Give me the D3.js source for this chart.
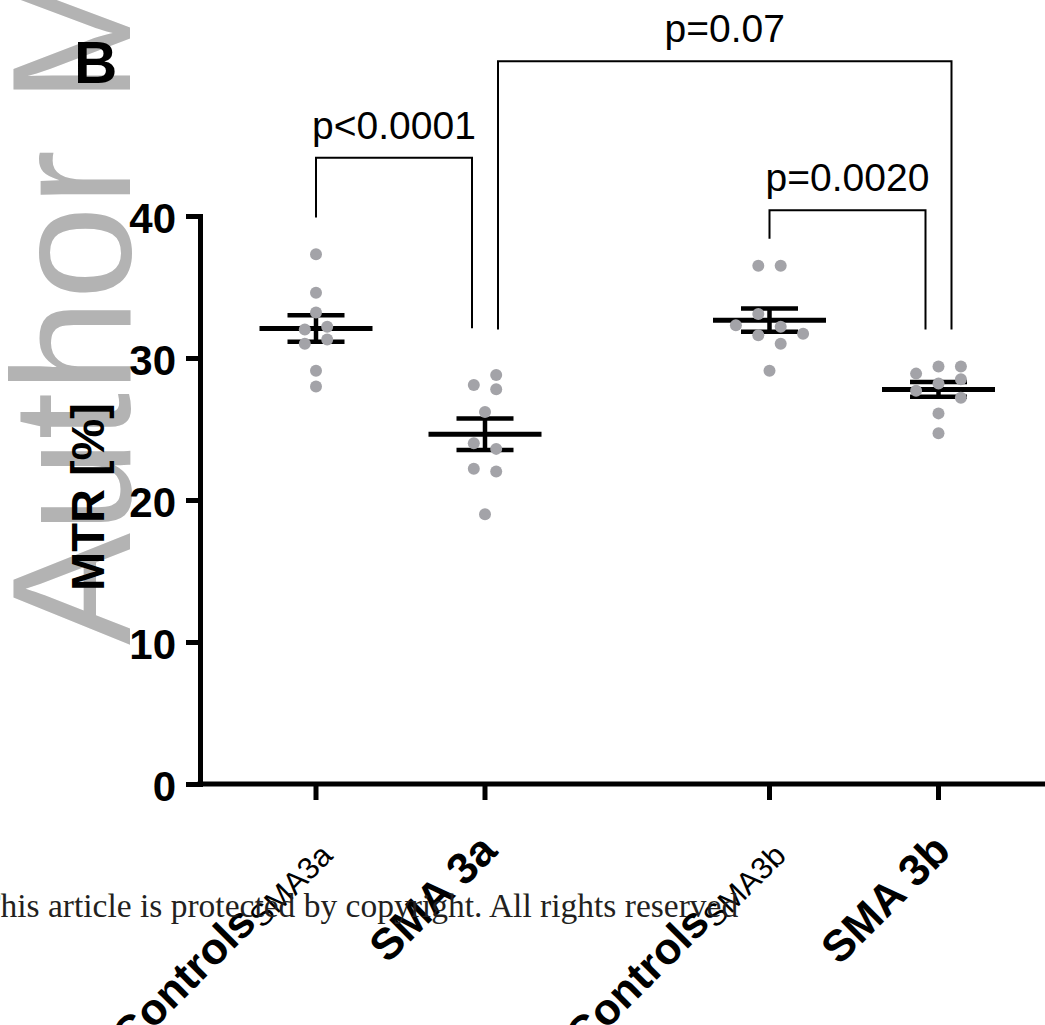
<!DOCTYPE html>
<html>
<head>
<meta charset="utf-8">
<script src="https://cdn.jsdelivr.net/npm/d3@7"></script>
<style>
  body { margin: 0; background: #fff; }
  svg { display: block; font-family: "Liberation Sans", Arial, sans-serif; }
</style>
</head>
<body>
<svg width="1045" height="1025"></svg>
<script>
// grupos e valores (MTR em %)
let coortes = ["3a", "3b"];
let grupos = ["Controls", "SMA"];

let controles_3a = [37.3, 34.6, 33.2, 32.2, 32.0, 31.3, 31.0, 29.1, 28.0];
let sma_3a = [28.8, 28.1, 27.8, 26.2, 24.0, 23.6, 22.2, 22.0, 19.0];
let controles_3b = [36.5, 36.5, 33.1, 32.3, 32.2, 31.7, 31.6, 31.0, 29.1];
let sma_3b = [29.4, 29.4, 28.9, 28.5, 28.2, 27.7, 27.2, 26.1, 24.7];

// coluna de cada ponto no "beeswarm" (como o prism espalhou)
let colunas_c3a = [0, 0, 0, 1, -1, 1, -1, 0, 0];
let colunas_s3a = [1, -1, 1, 0, -1, 1, -1, 1, 0];
let colunas_c3b = [-1, 1, -1, -3, 1, 3, -1, 1, 0];
let colunas_s3b = [2, 0, -2, 2, 0, -2, 2, 0, 0];

let rotulos = ["Controls", "SMA 3a", "Controls", "SMA 3b"];
let subscritos = ["SMA3a", "", "SMA3b", ""];

let ticks_y = [0, 10, 20, 30, 40];

// comparacoes: altura da barra e fim das pernas em MTR
let comparacoes = [
  {de: ["3a", "Controls"], ate: ["3a", "SMA"], p: "p<0.0001", nivel: 44.1, pernas: [39.9, 32.1], lado: [0, -1]},
  {de: ["3a", "SMA"], ate: ["3b", "SMA"], p: "p=0.07", nivel: 50.9, pernas: [32.0, 32.0], lado: [1, 1]},
  {de: ["3b", "Controls"], ate: ["3b", "SMA"], p: "p=0.0020", nivel: 40.4, pernas: [38.4, 32.0], lado: [0, -1]}
];

let series = [
  {coorte: "3a", grupo: "Controls", valores: controles_3a, colunas: colunas_c3a},
  {coorte: "3a", grupo: "SMA", valores: sma_3a, colunas: colunas_s3a},
  {coorte: "3b", grupo: "Controls", valores: controles_3b, colunas: colunas_c3b},
  {coorte: "3b", grupo: "SMA", valores: sma_3b, colunas: colunas_s3b}
];

let $svg = d3.select("svg");

let y = d3.scaleLinear().domain([0, 40]).range([784, 216]);

let x_coorte = d3.scalePoint().domain(coortes).range([400.5, 854]);
let x_grupo = d3.scalePoint().domain(grupos).range([-84.5, 84.5]);
let xpos = (c, g) => x_coorte(c) + x_grupo(g);

let passo_coluna = 11.2;
let raio = 6;

// marca d'agua
$svg.append("text")
  .attr("transform", "translate(130,645) rotate(-90)")
  .attr("font-size", 168)
  .attr("fill", "#b3b3b3")
  .text("Author Manuscript");

// letra do painel
$svg.append("text")
  .attr("x", 74).attr("y", 83)
  .attr("font-size", 60).attr("font-weight", "bold")
  .text("B");

// eixo y
let eixo_y = $svg.append("g")
  .attr("transform", "translate(200,0)")
  .call(d3.axisLeft(y).tickValues(ticks_y).tickSize(14).tickSizeOuter(0).tickPadding(10));

eixo_y.select(".domain").attr("stroke-width", 5).attr("stroke-linecap", "square");
eixo_y.selectAll(".tick line").attr("stroke-width", 5);
eixo_y.selectAll(".tick text")
  .attr("font-size", 42).attr("font-weight", "bold")
  .attr("font-family", "Liberation Sans, Arial, sans-serif")
  .attr("fill", "#000").attr("dy", "0.4em");

$svg.append("text")
  .attr("transform", "translate(104,497) rotate(-90)")
  .attr("text-anchor", "middle")
  .attr("font-size", 47).attr("font-weight", "bold")
  .text("MTR [%]");

// eixo x
$svg.append("line")
  .attr("x1", 197.5).attr("x2", 1045)
  .attr("y1", y(0)).attr("y2", y(0))
  .attr("stroke", "#000").attr("stroke-width", 5);

$svg.selectAll("line.tick_x").data(series)
  .enter().append("line")
  .classed("tick_x", true)
  .attr("x1", d => xpos(d.coorte, d.grupo)).attr("x2", d => xpos(d.coorte, d.grupo))
  .attr("y1", y(0)).attr("y2", y(0) + 16)
  .attr("stroke", "#000").attr("stroke-width", 5);

let $rot = $svg.selectAll("text.rotulo").data(series)
  .enter().append("text")
  .classed("rotulo", true)
  .attr("text-anchor", "end")
  .attr("transform", d => "translate(" + (xpos(d.coorte, d.grupo) + 14) + ",853) rotate(-45)");

$rot.append("tspan")
  .attr("font-size", 44).attr("font-weight", "bold")
  .text((d, i) => rotulos[i]);

$rot.append("tspan")
  .attr("font-size", 31).attr("dy", 6)
  .text((d, i) => subscritos[i]);

// media +- erro padrao
series.forEach(s => {
  s.media = d3.mean(s.valores);
  s.epm = d3.deviation(s.valores) / Math.sqrt(s.valores.length);
  s.x = xpos(s.coorte, s.grupo);
});

let $barras = $svg.selectAll("g.barra").data(series)
  .enter().append("g")
  .classed("barra", true)
  .attr("stroke", "#000");

$barras.append("line")
  .attr("x1", d => d.x).attr("x2", d => d.x)
  .attr("y1", d => y(d.media - d.epm)).attr("y2", d => y(d.media + d.epm))
  .attr("stroke-width", 4.5);

$barras.append("line")
  .attr("x1", d => d.x - 56.5).attr("x2", d => d.x + 56.5)
  .attr("y1", d => y(d.media)).attr("y2", d => y(d.media))
  .attr("stroke-width", 5);

[1, -1].forEach(sinal => {
  $barras.append("line")
    .attr("x1", d => d.x - 28.5).attr("x2", d => d.x + 28.5)
    .attr("y1", d => y(d.media + sinal * d.epm)).attr("y2", d => y(d.media + sinal * d.epm))
    .attr("stroke-width", 4.5);
});

// pontos
let pontos = [];
series.forEach(s => {
  s.valores.forEach((v, i) => pontos.push({x: s.x + s.colunas[i] * passo_coluna, v: v}));
});

$svg.selectAll("circle.ponto").data(pontos)
  .enter().append("circle")
  .classed("ponto", true)
  .attr("cx", d => d.x)
  .attr("cy", d => y(d.v))
  .attr("r", raio)
  .attr("fill", "#a3a3a8");

// colchetes de significancia
let afasta = 13;
let $comp = $svg.selectAll("g.comp").data(comparacoes)
  .enter().append("g")
  .classed("comp", true);

$comp.append("path")
  .attr("fill", "none").attr("stroke", "#000").attr("stroke-width", 2)
  .attr("d", d => {
    let x1 = xpos(d.de[0], d.de[1]) + d.lado[0] * afasta;
    let x2 = xpos(d.ate[0], d.ate[1]) + d.lado[1] * afasta;
    return "M" + x1 + "," + y(d.pernas[0]) + "V" + y(d.nivel) + "H" + x2 + "V" + y(d.pernas[1]);
  });

$comp.append("text")
  .attr("text-anchor", "middle")
  .attr("font-size", 39)
  .attr("x", d => (xpos(d.de[0], d.de[1]) + d.lado[0] * afasta + xpos(d.ate[0], d.ate[1]) + d.lado[1] * afasta) / 2)
  .attr("y", d => y(d.nivel) - 19)
  .text(d => d.p);

// rodape
$svg.append("text")
  .attr("x", -20).attr("y", 917)
  .attr("font-family", "Liberation Serif, Times New Roman, serif")
  .attr("font-size", 33.5)
  .attr("fill", "#231f20")
  .text("This article is protected by copyright. All rights reserved");
</script>
</body>
</html>
